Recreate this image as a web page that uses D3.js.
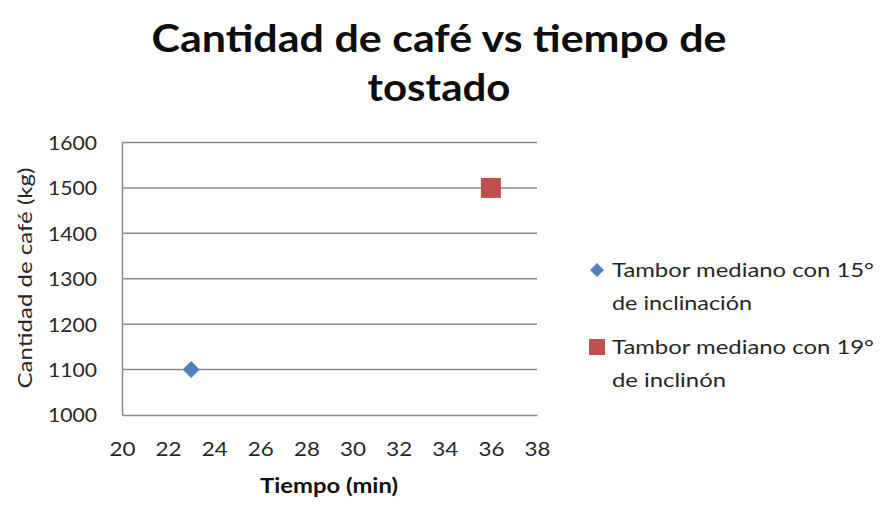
<!DOCTYPE html>
<html>
<head>
<meta charset="utf-8">
<script src="https://cdn.jsdelivr.net/npm/d3@7"></script>
<style>
  html, body { margin: 0; padding: 0; background: #fff; }
  svg { display: block; }
  text { font-family: Lato, "Open Sans", sans-serif; fill: #262626; }
</style>
</head>
<body>
<svg id="chart" width="891" height="529"></svg>
<script>
// Data
const seriesNames = ["Tambor mediano con 15° de inclinación", "Tambor mediano con 19° de inclinón"];
const legendLines = [["Tambor mediano con 15°", "de inclinación"], ["Tambor mediano con 19°", "de inclinón"]];
const timeMin = [23, 36];
const coffeeKg = [1100, 1500];
const xTicks = [20, 22, 24, 26, 28, 30, 32, 34, 36, 38];
const yTicks = [1000, 1100, 1200, 1300, 1400, 1500, 1600];
const titleLines = ["Cantidad de café vs tiempo de", "tostado"];
const colors = ["#4F81BD", "#C0504D"];
const symbols = [d3.symbolDiamond2, d3.symbolSquare];

const svg = d3.select("#chart");
const plot = { left: 122, right: 537, top: 142.5, bottom: 415 };

const x = d3.scaleLinear().domain([20, 38]).range([plot.left, plot.right]);
const y = d3.scaleLinear().domain([1000, 1600]).range([plot.bottom, plot.top]);

// Stretch a text element to a given width
function fit(sel, w) {
  return sel.attr("textLength", w).attr("lengthAdjust", "spacingAndGlyphs");
}

// Title (two lines)
const titleW = [575, 143];
const titleY = [52, 101];
titleLines.forEach((t, i) => {
  fit(svg.append("text").attr("x", 439).attr("y", titleY[i]).attr("text-anchor", "middle")
    .style("font-size", "38px").style("font-weight", "bold").style("fill", "#0d0d0d")
    .text(t), titleW[i]);
});

// Gridlines
svg.append("g").selectAll("line").data(yTicks.slice(1)).join("line")
  .attr("x1", plot.left).attr("x2", plot.right)
  .attr("y1", d => y(d)).attr("y2", d => y(d))
  .attr("stroke", "#8a8a8a").attr("stroke-width", 1.5);

// Y axis
const yAxis = svg.append("g").attr("transform", `translate(${plot.left},0)`)
  .call(d3.axisLeft(y).tickValues(yTicks).tickSize(0).tickPadding(25).tickFormat(d3.format("d")));
yAxis.select(".domain").attr("stroke", "#8a8a8a").attr("stroke-width", 1.5);
yAxis.selectAll("text")
  .attr("font-family", null).attr("dy", "0.36em")
  .style("font-size", "19px").attr("fill", "#262626")
  .attr("textLength", 49).attr("lengthAdjust", "spacingAndGlyphs");

// X axis
const xAxis = svg.append("g").attr("transform", `translate(0,${plot.bottom})`)
  .call(d3.axisBottom(x).tickValues(xTicks).tickSize(0).tickPadding(27));
xAxis.select(".domain").attr("stroke", "#8a8a8a").attr("stroke-width", 1.5);
xAxis.selectAll("text")
  .attr("font-family", null)
  .style("font-size", "20px").attr("fill", "#262626")
  .attr("textLength", 26).attr("lengthAdjust", "spacingAndGlyphs");

// Axis titles
fit(svg.append("text").attr("x", 329).attr("y", 493).attr("text-anchor", "middle")
  .style("font-size", "20px").style("font-weight", "bold").style("fill", "#111")
  .text("Tiempo (min)"), 138);
fit(svg.append("text").attr("transform", "translate(32,278) rotate(-90)").attr("text-anchor", "middle")
  .style("font-size", "19px").text("Cantidad de café (kg)"), 221);

// Points
const points = timeMin.map((t, i) => ({ t, kg: coffeeKg[i], i }));
svg.append("g").selectAll("path").data(points).join("path")
  .attr("transform", d => `translate(${x(d.t)},${y(d.kg)})`)
  .attr("d", d => d3.symbol().type(symbols[d.i]).size(d.i === 0 ? 184 : 400)())
  .attr("fill", d => colors[d.i]);

// Legend
const legendY = [270, 347];
const legendW = [[262, 140], [262, 114]];
legendLines.forEach((lines, i) => {
  const g = svg.append("g").attr("transform", `translate(0,${legendY[i]})`);
  g.append("path").attr("transform", "translate(597,0)")
    .attr("d", d3.symbol().type(symbols[i]).size(i === 0 ? 125 : 256)())
    .attr("fill", colors[i]);
  lines.forEach((ln, j) => {
    fit(g.append("text").attr("x", 612).attr("y", 7 + j * 33)
      .style("font-size", "20px").text(ln), legendW[i][j]);
  });
});
</script>
</body>
</html>
